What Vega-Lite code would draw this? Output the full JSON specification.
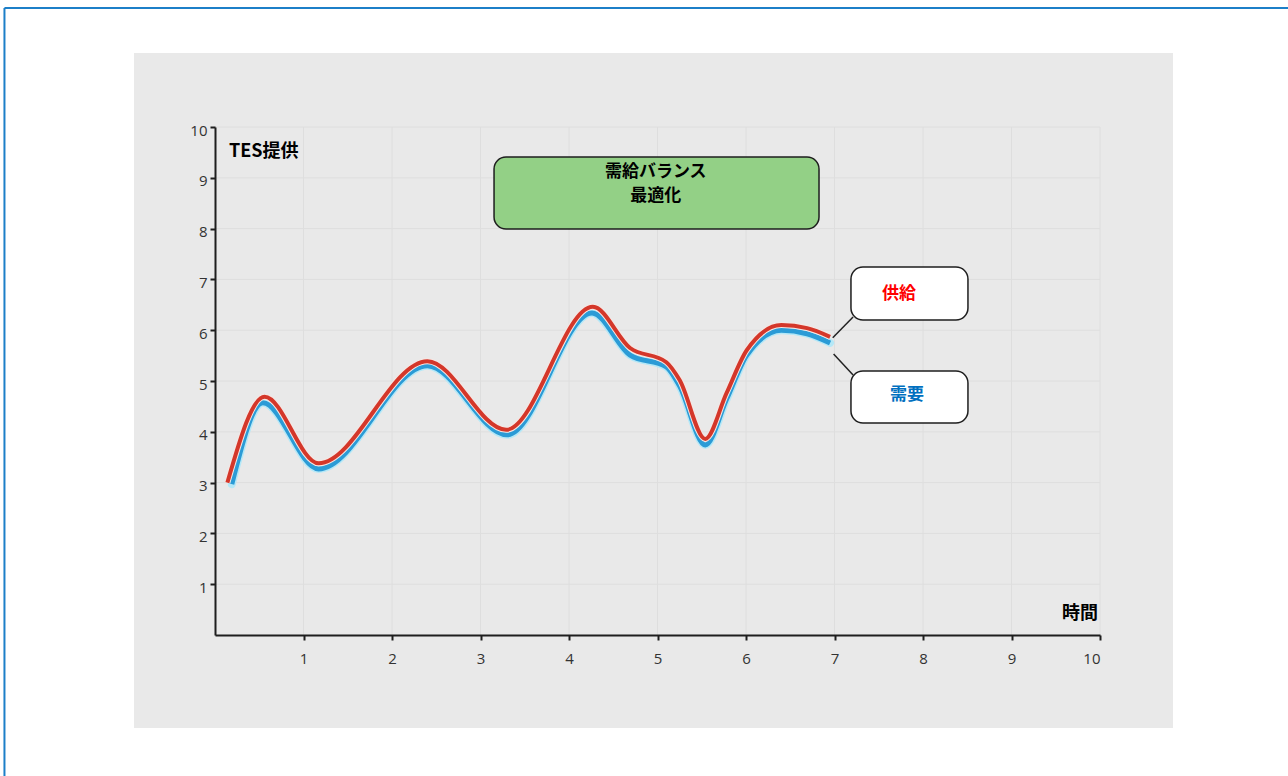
{
  "$schema": "https://vega.github.io/schema/vega-lite/v6.json",
  "width": 885,
  "height": 508,
  "autosize": {"type": "none"},
  "padding": {"left": 215, "top": 127, "right": 188, "bottom": 141},
  "background": "#ffffff",
  "config": {"view": {"stroke": null}},
  "datasets": {
    "border": [
      {"x": -2.379, "y": 12.343, "x2": 12.2, "y2": 12.343},
      {"x": -2.379, "y": 12.343, "x2": -2.379, "y2": -2.9}
    ],
    "panel": [{"x": -0.915, "x2": 10.825, "y": 11.457, "y2": -1.831}],
    "vgrid": [
      {"g": 1}, {"g": 2}, {"g": 3}, {"g": 4}, {"g": 5}, {"g": 6}, {"g": 7}, {"g": 8}, {"g": 9}, {"g": 10}
    ],
    "supply": [
      {"t": 0.14, "v": 3.0},
      {"t": 0.56, "v": 4.69},
      {"t": 1.17, "v": 3.38},
      {"t": 2.4, "v": 5.39},
      {"t": 3.29, "v": 4.04},
      {"t": 4.27, "v": 6.46},
      {"t": 4.69, "v": 5.65},
      {"t": 5.1, "v": 5.37},
      {"t": 5.25, "v": 5.02},
      {"t": 5.54, "v": 3.86},
      {"t": 5.78, "v": 4.76},
      {"t": 6.01, "v": 5.61},
      {"t": 6.4, "v": 6.1},
      {"t": 6.69, "v": 6.04},
      {"t": 6.95, "v": 5.87}
    ],
    "demand": [
      {"t": 0.19, "v": 2.97},
      {"t": 0.54, "v": 4.57},
      {"t": 1.17, "v": 3.27},
      {"t": 2.4, "v": 5.3},
      {"t": 3.3, "v": 3.94},
      {"t": 4.26, "v": 6.34},
      {"t": 4.69, "v": 5.51},
      {"t": 5.1, "v": 5.28},
      {"t": 5.25, "v": 4.9},
      {"t": 5.54, "v": 3.74},
      {"t": 5.78, "v": 4.64},
      {"t": 6.01, "v": 5.51},
      {"t": 6.4, "v": 6.0},
      {"t": 6.69, "v": 5.93},
      {"t": 6.95, "v": 5.75}
    ],
    "boxes": [
      {"x": 3.153, "x2": 6.825, "y": 9.409, "y2": 7.992, "fill": "#93d086"},
      {"x": 7.186, "x2": 8.508, "y": 7.244, "y2": 6.201, "fill": "#ffffff"},
      {"x": 7.186, "x2": 8.508, "y": 5.197, "y2": 4.173, "fill": "#ffffff"}
    ],
    "connectors": [
      {"x": 6.98, "y": 5.85, "x2": 7.21, "y2": 6.26},
      {"x": 6.99, "y": 5.53, "x2": 7.21, "y2": 5.12}
    ],
    "boxtext": [
      {"x": 4.98, "y": 9.12, "label": "需給バランス", "c": "#000000"},
      {"x": 4.98, "y": 8.64, "label": "最適化", "c": "#000000"},
      {"x": 7.729, "y": 6.713, "label": "供給", "c": "#ff0000"},
      {"x": 7.819, "y": 4.724, "label": "需要", "c": "#0070c0"}
    ]
  },
  "layer": [
    {
      "data": {"name": "border"},
      "mark": {"type": "rule", "color": "#1c7fc8", "strokeWidth": 2, "clip": false},
      "encoding": {
        "x": {"field": "x", "type": "quantitative", "scale": {"domain": [0, 10], "nice": false, "zero": false},
          "axis": {"values": [1,2,3,4,5,6,7,8,9,10], "format": "d", "title": null, "grid": false, "domainColor": "#1e1e1e", "domainWidth": 2, "tickColor": "#1e1e1e", "tickWidth": 2, "tickSize": 5, "labelPadding": 11, "labelFont": "Open Sans", "labelFontSize": 15, "labelColor": "#333333", "zindex": 3}},
        "x2": {"field": "x2"},
        "y": {"field": "y", "type": "quantitative", "scale": {"domain": [0, 10], "nice": false, "zero": false},
          "axis": {"values": [1,2,3,4,5,6,7,8,9,10], "format": "d", "title": null, "grid": false, "domainColor": "#1e1e1e", "domainWidth": 2, "tickColor": "#1e1e1e", "tickWidth": 2, "tickSize": 5, "labelPadding": 3, "labelOffset": 3, "labelFont": "Open Sans", "labelFontSize": 15, "labelColor": "#333333", "zindex": 3}},
        "y2": {"field": "y2"}
      }
    },
    {
      "data": {"name": "panel"},
      "mark": {"type": "rect", "fill": "#e9e9e9", "clip": false},
      "encoding": {
        "x": {"field": "x", "type": "quantitative"},
        "x2": {"field": "x2"},
        "y": {"field": "y", "type": "quantitative"},
        "y2": {"field": "y2"}
      }
    },
    {
      "data": {"name": "vgrid"},
      "mark": {"type": "rule", "color": "#dedede", "strokeWidth": 1},
      "encoding": {"x": {"field": "g", "type": "quantitative"}}
    },
    {
      "data": {"name": "vgrid"},
      "mark": {"type": "rule", "color": "#dedede", "strokeWidth": 1},
      "encoding": {"y": {"field": "g", "type": "quantitative"}}
    },
    {
      "data": {"name": "demand"},
      "mark": {"type": "line", "interpolate": "monotone", "color": "#b5e8f7", "strokeWidth": 8, "strokeCap": "round"},
      "encoding": {"x": {"field": "t", "type": "quantitative"}, "y": {"field": "v", "type": "quantitative"}}
    },
    {
      "data": {"name": "demand"},
      "mark": {"type": "line", "interpolate": "monotone", "color": "#2b9bd6", "strokeWidth": 5},
      "encoding": {"x": {"field": "t", "type": "quantitative"}, "y": {"field": "v", "type": "quantitative"}}
    },
    {
      "data": {"name": "supply"},
      "mark": {"type": "line", "interpolate": "monotone", "color": "#f7e6e2", "strokeWidth": 6},
      "encoding": {"x": {"field": "t", "type": "quantitative"}, "y": {"field": "v", "type": "quantitative"}}
    },
    {
      "data": {"name": "supply"},
      "mark": {"type": "line", "interpolate": "monotone", "color": "#d4372a", "strokeWidth": 4},
      "encoding": {"x": {"field": "t", "type": "quantitative"}, "y": {"field": "v", "type": "quantitative"}}
    },
    {
      "data": {"name": "connectors"},
      "mark": {"type": "rule", "color": "#222222", "strokeWidth": 1.5},
      "encoding": {
        "x": {"field": "x", "type": "quantitative"},
        "x2": {"field": "x2"},
        "y": {"field": "y", "type": "quantitative"},
        "y2": {"field": "y2"}
      }
    },
    {
      "data": {"name": "boxes"},
      "mark": {"type": "rect", "cornerRadius": 12, "stroke": "#1e1e1e", "strokeWidth": 1.5},
      "encoding": {
        "x": {"field": "x", "type": "quantitative"},
        "x2": {"field": "x2"},
        "y": {"field": "y", "type": "quantitative"},
        "y2": {"field": "y2"},
        "fill": {"field": "fill", "type": "nominal", "scale": null}
      }
    },
    {
      "data": {"name": "boxtext"},
      "mark": {"type": "text", "font": "Noto Sans CJK JP", "fontWeight": "bold", "fontSize": 17, "align": "center", "baseline": "middle"},
      "encoding": {
        "x": {"field": "x", "type": "quantitative"},
        "y": {"field": "y", "type": "quantitative"},
        "text": {"field": "label"},
        "color": {"field": "c", "type": "nominal", "scale": null}
      }
    },
    {
      "data": {"values": [{"x": 0.158, "y": 9.508, "label": "TES提供"}]},
      "mark": {"type": "text", "font": "Noto Sans CJK JP", "fontWeight": "bold", "fontSize": 18, "align": "left", "baseline": "middle", "color": "#000000"},
      "encoding": {
        "x": {"field": "x", "type": "quantitative"},
        "y": {"field": "y", "type": "quantitative"},
        "text": {"field": "label"}
      }
    },
    {
      "data": {"values": [{"x": 9.977, "y": 0.413, "label": "時間"}]},
      "mark": {"type": "text", "font": "Noto Sans CJK JP", "fontWeight": "bold", "fontSize": 18, "align": "right", "baseline": "middle", "color": "#000000"},
      "encoding": {
        "x": {"field": "x", "type": "quantitative"},
        "y": {"field": "y", "type": "quantitative"},
        "text": {"field": "label"}
      }
    }
  ]
}
